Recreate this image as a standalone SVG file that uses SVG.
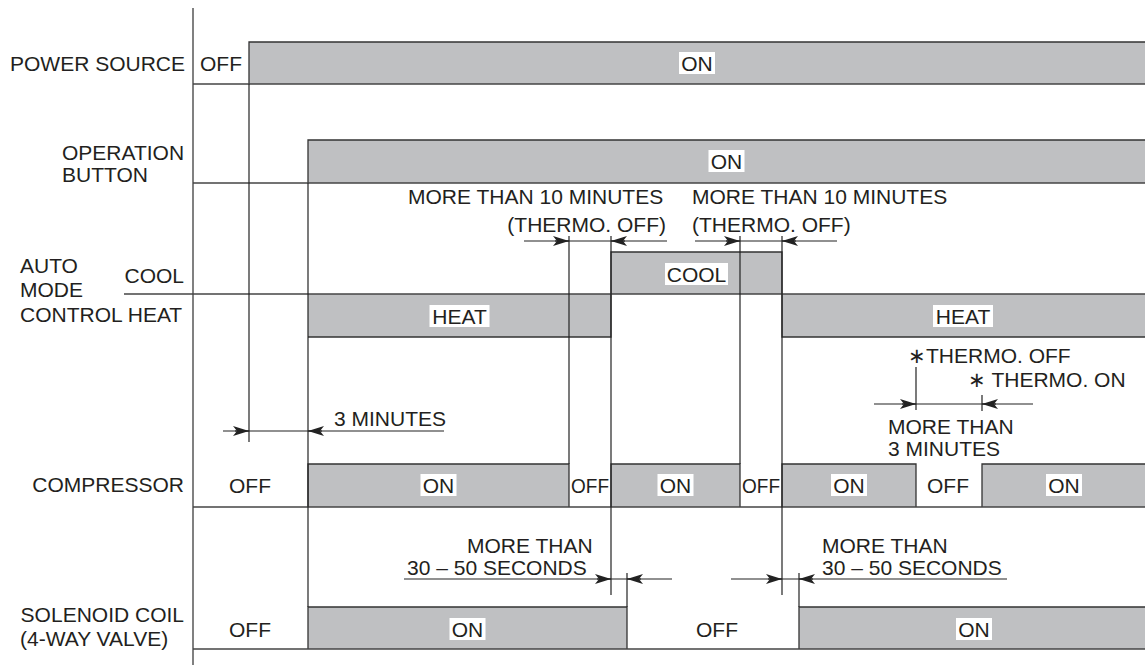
<svg xmlns="http://www.w3.org/2000/svg" width="1145" height="665" viewBox="0 0 1145 665">
<style>
.bar{fill:#bfc0c2}
.edge{fill:none;stroke:#333;stroke-width:1.3}
.base{fill:none;stroke:#444;stroke-width:1.6}
.axis{fill:none;stroke:#808080;stroke-width:2}
.vl{fill:none;stroke:#222;stroke-width:1.2}
.dim{fill:none;stroke:#222;stroke-width:1.2}
.bg{fill:#fff}
text{font-family:"Liberation Sans",Arial,sans-serif;font-size:21px;fill:#231f20}
.c{text-anchor:middle}
.e{text-anchor:end}
</style>
<defs>
<marker id="ah" viewBox="0 0 16 10" markerWidth="16" markerHeight="10" refX="16" refY="5" orient="auto" markerUnits="userSpaceOnUse">
<path d="M0,0 L16,5 L0,10 L4,5 z" fill="#222"/>
</marker>
</defs>
<rect width="1145" height="665" fill="#fff"/>
<path class="axis" d="M193,8 V665"/>

<g id="power-source">
<rect class="bar" x="249" y="42" width="896" height="42"/>
<path class="edge" d="M249,84 V42 H1145"/>
<path class="base" d="M193,84 H1145"/>
<text class="e" x="185" y="71">POWER SOURCE</text>
<text class="c" x="221" y="71">OFF</text>
<rect class="bg" x="679" y="52" width="36" height="22"/>
<text class="c" x="697" y="71">ON</text>
</g>

<g id="operation-button">
<rect class="bar" x="308" y="140" width="837" height="43"/>
<path class="edge" d="M308,183 V140 H1145"/>
<path class="base" d="M193,183 H1145"/>
<text x="62" y="160">OPERATION</text>
<text x="62" y="182">BUTTON</text>
<rect class="bg" x="708.5" y="150" width="36" height="22"/>
<text class="c" x="726.5" y="169">ON</text>
</g>

<g id="auto-mode-control">
<rect class="bar" x="308" y="294" width="303" height="43"/>
<rect class="bar" x="782" y="294" width="363" height="43"/>
<rect class="bar" x="611" y="252" width="171" height="42"/>
<path class="edge" d="M308,337 H611 V294"/>
<path class="edge" d="M782,294 V337 H1145"/>
<path class="edge" d="M611,294 V252 H782 V294"/>
<path class="base" d="M124,294 H1145"/>
<text x="20" y="273">AUTO</text>
<text x="20" y="297">MODE</text>
<text x="20" y="322">CONTROL HEAT</text>
<text class="e" x="184" y="283">COOL</text>
<rect class="bg" x="429.5" y="305" width="60" height="22"/>
<text class="c" x="459.5" y="324">HEAT</text>
<rect class="bg" x="933" y="305" width="60" height="22"/>
<text class="c" x="963" y="324">HEAT</text>
<rect class="bg" x="665" y="263" width="63" height="22"/>
<text class="c" x="696.5" y="282">COOL</text>
</g>

<g id="compressor">
<rect class="bar" x="308" y="464" width="261" height="43"/>
<rect class="bar" x="611" y="464" width="129" height="43"/>
<rect class="bar" x="782" y="464" width="134" height="43"/>
<rect class="bar" x="982" y="464" width="163" height="43"/>
<path class="edge" d="M308,507 V464 H569 V507"/>
<path class="edge" d="M611,507 V464 H740 V507"/>
<path class="edge" d="M782,507 V464 H916 V507"/>
<path class="edge" d="M982,507 V464 H1145"/>
<path class="base" d="M193,507 H1145"/>
<text class="e" x="184" y="492">COMPRESSOR</text>
<text class="c" x="250" y="493">OFF</text>
<rect class="bg" x="420.5" y="474" width="36" height="22"/>
<text class="c" x="438.5" y="493">ON</text>
<text class="c" x="590" y="493" textLength="38" lengthAdjust="spacingAndGlyphs">OFF</text>
<rect class="bg" x="657.5" y="474" width="36" height="22"/>
<text class="c" x="675.5" y="493">ON</text>
<text class="c" x="761" y="493" textLength="38" lengthAdjust="spacingAndGlyphs">OFF</text>
<rect class="bg" x="831" y="474" width="36" height="22"/>
<text class="c" x="849" y="493">ON</text>
<text class="c" x="948" y="493">OFF</text>
<rect class="bg" x="1046" y="474" width="36" height="22"/>
<text class="c" x="1064" y="493">ON</text>
</g>

<g id="solenoid-coil">
<rect class="bar" x="308" y="607" width="319" height="42"/>
<rect class="bar" x="799" y="607" width="346" height="42"/>
<path class="edge" d="M308,649 V607 H627 V649"/>
<path class="edge" d="M799,649 V607 H1145"/>
<path class="base" d="M193,649 H1145"/>
<text class="e" x="184" y="622">SOLENOID COIL</text>
<text x="20" y="646">(4-WAY VALVE)</text>
<text class="c" x="250" y="637">OFF</text>
<rect class="bg" x="449.5" y="618" width="36" height="22"/>
<text class="c" x="467.5" y="637">ON</text>
<text class="c" x="717" y="637">OFF</text>
<rect class="bg" x="956" y="618" width="36" height="22"/>
<text class="c" x="974" y="637">ON</text>
</g>

<g id="connectors">
<path class="vl" d="M249,84 V442"/>
<path class="vl" d="M308,183 V607"/>
<path class="vl" d="M569,236 V464"/>
<path class="vl" d="M611,236 V595"/>
<path class="vl" d="M740,236 V464"/>
<path class="vl" d="M782,236 V595"/>
<path class="vl" d="M627,573 V607"/>
<path class="vl" d="M799,573 V607"/>
<path class="vl" d="M916,367 V410"/>
<path class="vl" d="M982,395 V411"/>

<path class="dim" d="M223,431 H444"/>
<path class="dim" d="M235,431 H249" marker-end="url(#ah)"/>
<path class="dim" d="M322,431 H308" marker-end="url(#ah)"/>

<path class="dim" d="M524,241 H667"/>
<path class="dim" d="M555,241 H569" marker-end="url(#ah)"/>
<path class="dim" d="M625,241 H611" marker-end="url(#ah)"/>

<path class="dim" d="M695,241 H837"/>
<path class="dim" d="M726,241 H740" marker-end="url(#ah)"/>
<path class="dim" d="M796,241 H782" marker-end="url(#ah)"/>

<path class="dim" d="M874,404 H1033"/>
<path class="dim" d="M902,404 H916" marker-end="url(#ah)"/>
<path class="dim" d="M996,404 H982" marker-end="url(#ah)"/>

<path class="dim" d="M404,579 H672"/>
<path class="dim" d="M597,579 H611" marker-end="url(#ah)"/>
<path class="dim" d="M641,579 H627" marker-end="url(#ah)"/>

<path class="dim" d="M731,579 H1007"/>
<path class="dim" d="M768,579 H782" marker-end="url(#ah)"/>
<path class="dim" d="M813,579 H799" marker-end="url(#ah)"/>
</g>

<g id="annotations">
<text x="334" y="426">3 MINUTES</text>
<text x="408" y="204">MORE THAN 10 MINUTES</text>
<text class="e" x="666" y="232">(THERMO. OFF)</text>
<text x="692" y="204">MORE THAN 10 MINUTES</text>
<text x="692" y="232">(THERMO. OFF)</text>
<text x="908" y="363">∗THERMO. OFF</text>
<text x="968" y="387">∗ THERMO. ON</text>
<text x="888" y="434">MORE THAN</text>
<text x="888" y="456">3 MINUTES</text>
<text x="467" y="553">MORE THAN</text>
<text x="407" y="575">30 – 50 SECONDS</text>
<text x="822" y="553">MORE THAN</text>
<text x="822" y="575">30 – 50 SECONDS</text>
</g>
</svg>
